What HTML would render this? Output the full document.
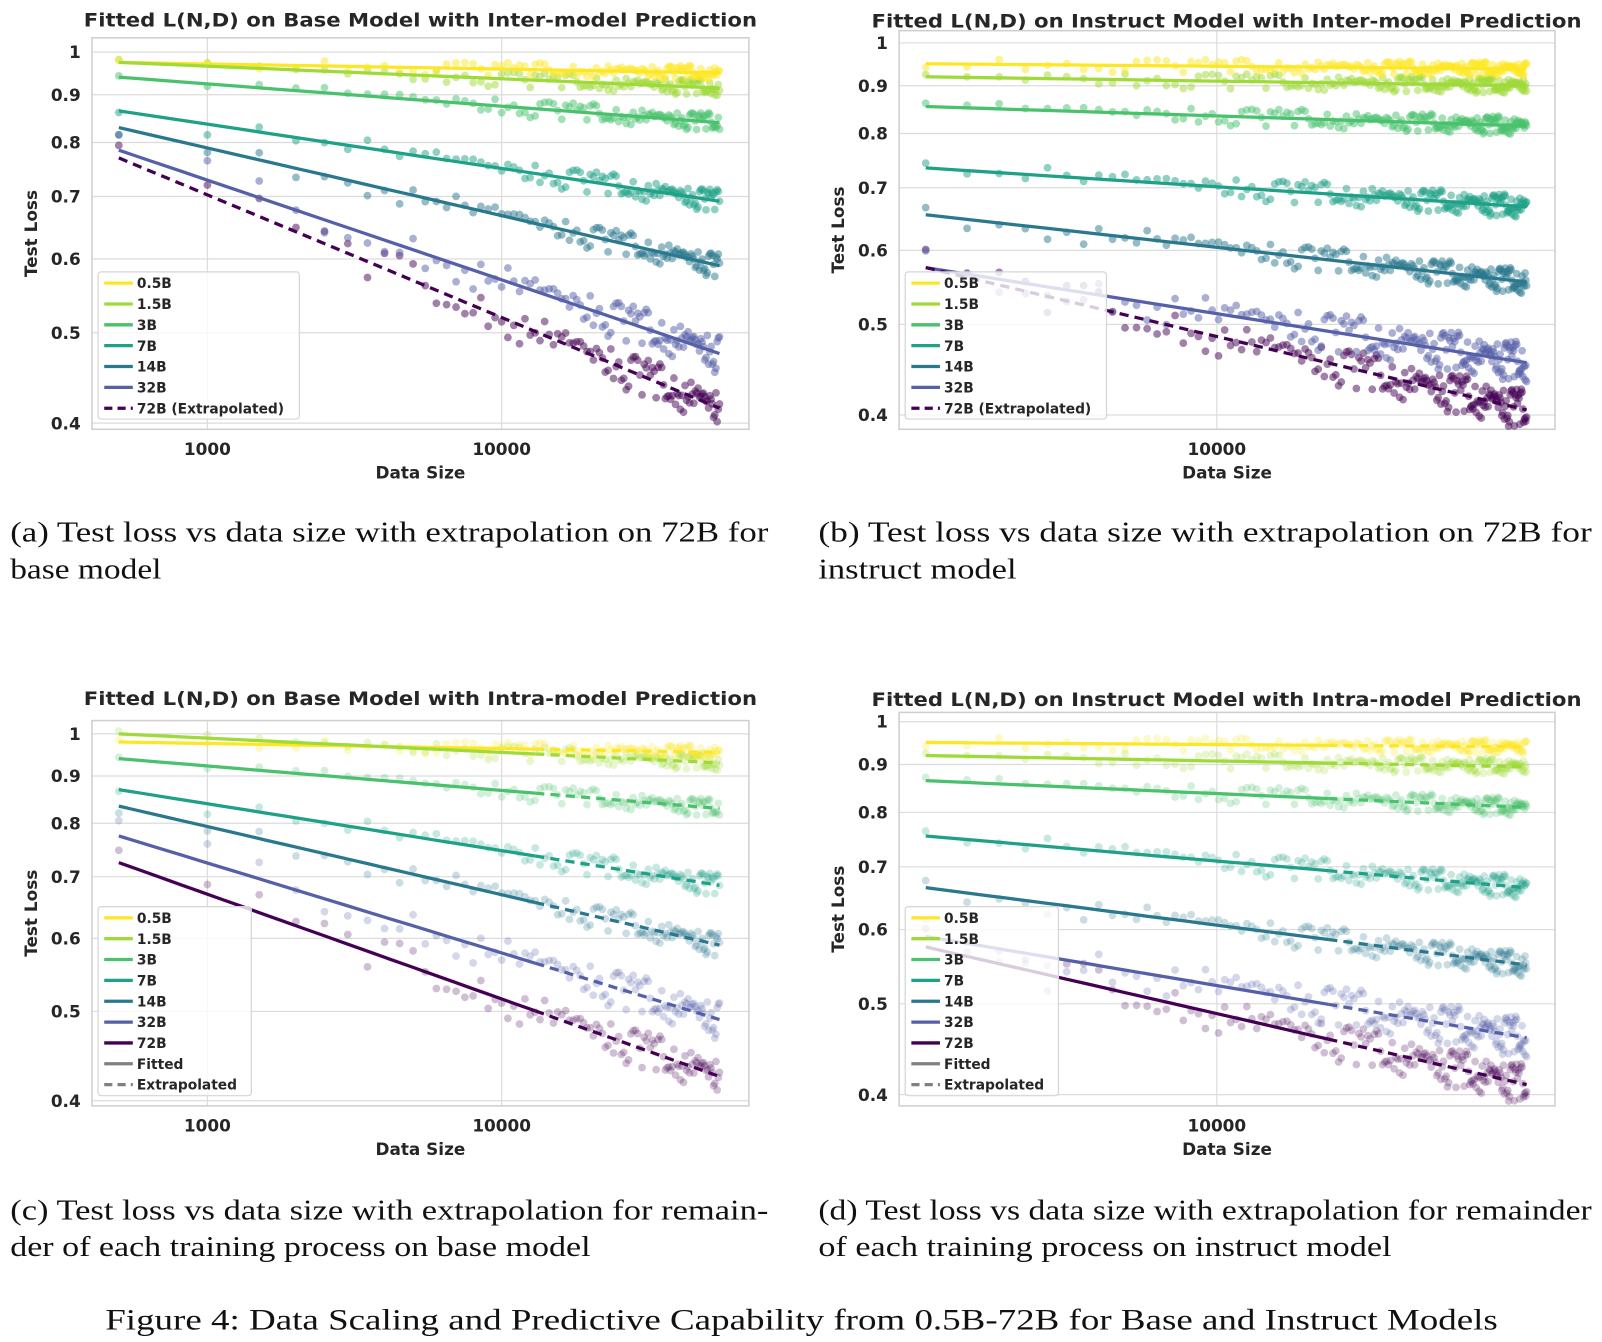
<!DOCTYPE html>
<html><head><meta charset="utf-8">
<style>
html,body{margin:0;padding:0;background:#fff;}
svg{display:block;}
.t{font-family:"DejaVu Sans","Liberation Sans",sans-serif;font-weight:bold;fill:#262626;}
.cap{font-family:"Liberation Serif","DejaVu Serif",serif;fill:#111;}
</style></head>
<body>
<svg id="fig" width="1602" height="1342" viewBox="0 0 1568 1313" preserveAspectRatio="none" xmlns="http://www.w3.org/2000/svg">
<text class="cap" x="10" y="530" font-size="28" textLength="742" lengthAdjust="spacingAndGlyphs">(a) Test loss vs data size with extrapolation on 72B for</text>
<text class="cap" x="10" y="566" font-size="28" textLength="148" lengthAdjust="spacingAndGlyphs">base model</text>
<text class="cap" x="801" y="530" font-size="28" textLength="757" lengthAdjust="spacingAndGlyphs">(b) Test loss vs data size with extrapolation on 72B for</text>
<text class="cap" x="801" y="566" font-size="28" textLength="194" lengthAdjust="spacingAndGlyphs">instruct model</text>
<text class="cap" x="10" y="1193" font-size="28" textLength="742" lengthAdjust="spacingAndGlyphs">(c) Test loss vs data size with extrapolation for remain-</text>
<text class="cap" x="10" y="1229" font-size="28" textLength="568" lengthAdjust="spacingAndGlyphs">der of each training process on base model</text>
<text class="cap" x="801" y="1193" font-size="28" textLength="757" lengthAdjust="spacingAndGlyphs">(d) Test loss vs data size with extrapolation for remainder</text>
<text class="cap" x="801" y="1229" font-size="28" textLength="561" lengthAdjust="spacingAndGlyphs">of each training process on instruct model</text>
<text class="cap" x="103" y="1301" font-size="29" textLength="1363" lengthAdjust="spacingAndGlyphs">Figure 4: Data Scaling and Predictive Capability from 0.5B-72B for Base and Instruct Models</text>
</svg>
<script>
const seriesNames = ['0.5B','1.5B','3B','7B','14B','32B','72B'];
const seriesColors = ['#fde725','#a0da39','#4ac16d','#1fa187','#2a788e','#5560a8','#440154'];
const noiseAmp = [0.012,0.014,0.016,0.02,0.022,0.035,0.035];
const residuals = [0.6,-0.4,1.1,-0.9,0.2,0.8,-1.3,0.4,-0.1,1.4,-0.7,0.3,-1.0,0.9,0.1,-0.5,1.2,-1.4,0.5,-0.2,0.7,-0.8,1.0,0.0,-1.1,0.6,-0.3,1.3,-0.6,0.2,-0.9,0.8,0.4,-1.2,0.3,1.0,-0.4,-0.7,1.1,0.1,-0.2,0.9,-1.0,0.5,-0.6,1.2,0.2,-1.3,0.7,-0.1,0.4,-0.8,1.0,-0.3,0.6,-1.1,0.3,0.8,-0.5,0.0];
const fitStartA = [0.975,0.975,0.94,0.865,0.83,0.785,0.77];
const fitEndA   = [0.950,0.915,0.84,0.692,0.59,0.475,0.415];
const fitStartB = [0.950,0.920,0.855,0.735,0.655,0.575,0.575];
const fitEndB   = [0.938,0.900,0.815,0.668,0.555,0.455,0.405];
const fitStartC = [0.980,1.000,0.94,0.87,0.835,0.775,0.725];
const fitEndC   = [0.955,0.930,0.83,0.685,0.590,0.490,0.425];
const fitStartD = [0.950,0.920,0.865,0.755,0.665,0.59,0.575];
const fitEndD   = [0.940,0.895,0.810,0.665,0.550,0.46,0.41];
const yTicks = [1,0.9,0.8,0.7,0.6,0.5,0.4];
const yTickLabels = ['1','0.9','0.8','0.7','0.6','0.5','0.4'];
const xTicksBase = [1000,10000];
const xTicksInstr = [10000];

const NS='http://www.w3.org/2000/svg';
const svg=document.getElementById('fig');
function mk(tag,attrs,parent){const e=document.createElementNS(NS,tag);for(const k in attrs)e.setAttribute(k,attrs[k]);(parent||svg).appendChild(e);return e;}

const panels=[
 {id:'a',title:'Fitted L(N,D) on Base Model with Inter-model Prediction',tl:659,box:[90,37,733,420],y1:51,y04:414,xRef:10000,xRefPx:491,ppd:288,xs:500,k0:1,k1:110,xTicks:xTicksBase,fs:fitStartA,fe:fitEndA,mode:'inter',alpha:0.5,leg:[96,266,293,410],titleX:82,titleY:26},
 {id:'b',title:'Fitted L(N,D) on Instruct Model with Inter-model Prediction',tl:695,box:[880,30,1522,420],y1:42,y04:406,xRef:10000,xRefPx:1191,ppd:324,xs:440,k0:3,k1:196,xTicks:xTicksInstr,fs:fitStartB,fe:fitEndB,mode:'inter',alpha:0.5,leg:[886,266,1083,410],titleX:853,titleY:27},
 {id:'c',title:'Fitted L(N,D) on Base Model with Intra-model Prediction',tl:659,box:[90,705,733,1082],y1:718,y04:1077,xRef:10000,xRefPx:491,ppd:288,xs:500,k0:1,k1:110,xTicks:xTicksBase,fs:fitStartC,fe:fitEndC,mode:'intra',split:13000,alpha:0.25,leg:[96,887,246,1072],titleX:82,titleY:690},
 {id:'d',title:'Fitted L(N,D) on Instruct Model with Intra-model Prediction',tl:695,box:[880,697,1522,1082],y1:706,y04:1071,xRef:10000,xRefPx:1191,ppd:324,xs:440,k0:3,k1:196,xTicks:xTicksInstr,fs:fitStartD,fe:fitEndD,mode:'intra',split:21700,alpha:0.25,leg:[886,887,1036,1072],titleX:853,titleY:691}
];

panels.forEach(p=>{
 const g=mk('g',{});
 
 
 const [bx0,by0,bx1,by1]=p.box;
 const X=v=>p.xRefPx+p.ppd*Math.log10(v/p.xRef);
 const Y=v=>p.y1+(p.y04-p.y1)*Math.log(v)/Math.log(0.4);
 const ttl=mk('text',{class:'t',x:p.titleX,y:p.titleY,'font-size':18,textLength:p.tl,lengthAdjust:'spacingAndGlyphs'},g);ttl.textContent=p.title;
 
 yTicks.forEach((t,i)=>{const y=Y(t);
  const l=mk('line',{x1:bx0,x2:bx1,y1:y,y2:y,stroke:'#dcdcdc','stroke-width':1.2},g);
  
  const tx=mk('text',{class:'t',x:bx0-11,y:y+6,'font-size':16.5,'text-anchor':'end'},g);tx.textContent=yTickLabels[i];
  });
 p.xTicks.forEach(t=>{const x=X(t);
  const l=mk('line',{x1:x,x2:x,y1:by0,y2:by1,stroke:'#dcdcdc','stroke-width':1.2},g);
  
  const tx=mk('text',{class:'t',x:x,y:by1+25,'font-size':16.5,'text-anchor':'middle'},g);tx.textContent=String(t);
  });
 const fr=mk('rect',{x:bx0,y:by0,width:bx1-bx0,height:by1-by0,fill:'none',stroke:'#cfcfcf','stroke-width':1.5},g);
 
 const xl=mk('text',{class:'t',x:(bx0+bx1)/2,y:by1+48,'font-size':16.5,'text-anchor':'middle'},g);xl.textContent='Data Size';
 
 const yc=(by0+by1)/2;
 const yl=mk('text',{class:'t',x:bx0-54,y:yc,'font-size':16.5,'text-anchor':'middle',transform:`rotate(-90 ${bx0-54} ${yc})`},g);yl.textContent='Test Loss';
 
 const xStart=p.xs*p.k0, xEnd=p.xs*p.k1;
 const fit=(s,v)=>p.fs[s]*Math.pow(p.fe[s]/p.fs[s],Math.log(v/xStart)/Math.log(xEnd/xStart));
 for(let s=seriesNames.length-1;s>=0;s--){
  const pg=mk('g',{fill:seriesColors[s],'fill-opacity':p.alpha},g);
  
  for(let k=p.k0;k<=p.k1;k++){
   const v=p.xs*k;
   const r=residuals[(k*7+s*11)%residuals.length];
   const loss=fit(s,v)*(1+noiseAmp[s]*r);
   const c=mk('circle',{cx:X(v),cy:Y(loss),r:3.8},pg);
   
  }
 }
 seriesNames.forEach((n,s)=>{
  const seg=(a,b,dash,name)=>{const pts=[];for(let i=0;i<=20;i++){const v=a*Math.pow(b/a,i/20);pts.push(X(v).toFixed(1)+','+Y(fit(s,v)).toFixed(1));}
   const pl=mk('polyline',{points:pts.join(' '),fill:'none',stroke:seriesColors[s],'stroke-width':3.2,'stroke-dasharray':dash?'9,6':'none'},g);
   };
  if(p.mode==='inter'){seg(xStart,xEnd,s===6,'fit-line-'+n);}
  else{seg(xStart,p.split,false,'fit-line-'+n);seg(p.split,xEnd,true,'extrapolated-line-'+n);}
 });
 const [lx0,ly0,lx1,ly1]=p.leg;
 const lg=mk('g',{},g);
 mk('rect',{x:lx0,y:ly0,width:lx1-lx0,height:ly1-ly0,rx:3,fill:'#fff','fill-opacity':0.8,stroke:'#d5d5d5','stroke-width':1.2},lg);
 const entries=seriesNames.map((n,i)=>({label:(p.mode==='inter'&&i===6)?'72B (Extrapolated)':n,color:seriesColors[i],dash:p.mode==='inter'&&i===6}));
 if(p.mode==='intra'){entries.push({label:'Fitted',color:'#808080',dash:false});entries.push({label:'Extrapolated',color:'#808080',dash:true});}
 entries.forEach((e,i)=>{const y=ly0+11+i*20.4;
  const eg=mk('g',{},lg);
  mk('line',{x1:lx0+6,x2:lx0+34,y1:y,y2:y,stroke:e.color,'stroke-width':3.2,'stroke-dasharray':e.dash?'8,5':'none'},eg);
  const t=mk('text',{class:'t',x:lx0+38,y:y+5,'font-size':13.5},eg);t.textContent=e.label;});
});
</script>
</body></html>
